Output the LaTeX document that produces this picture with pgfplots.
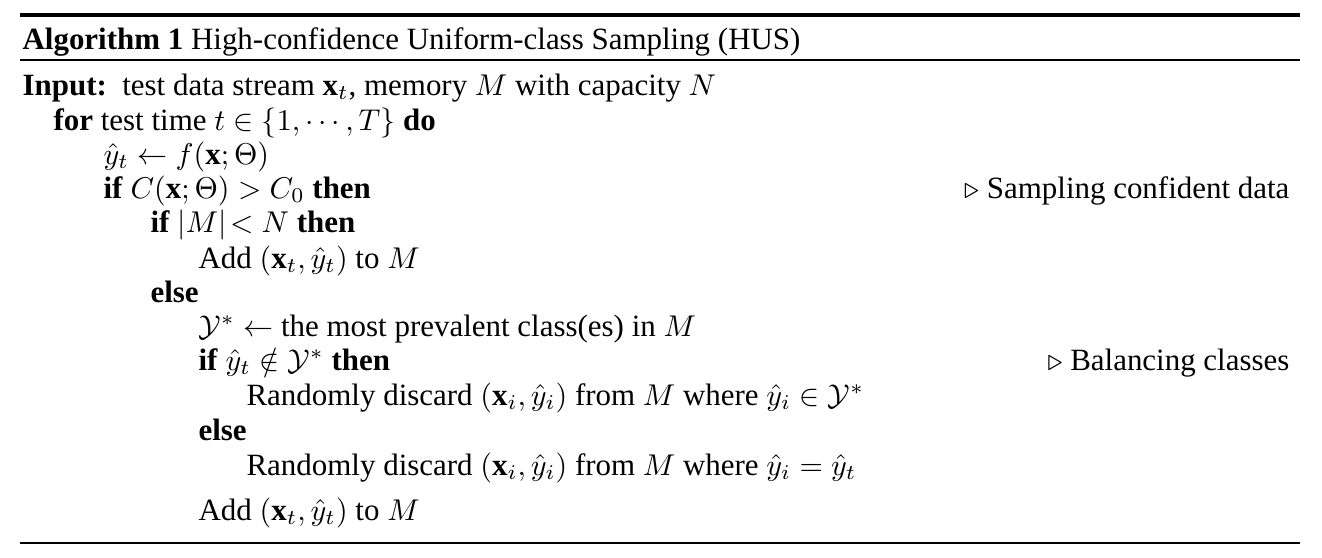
\documentclass[border=0pt]{standalone}
\usepackage{pgfplots}
\pgfplotsset{compat=1.18}
\usepackage{fontspec}
\setmainfont{Liberation Serif}
\tikzset{L/.style={anchor=base west,inner sep=0pt,font=\fontsize{10.3}{12}\selectfont},
R/.style={anchor=base east,inner sep=0pt,font=\fontsize{10.3}{12}\selectfont}}
\begin{document}
\begin{tikzpicture}
\begin{axis}[width=440pt,height=185.4pt,scale only axis,axis lines=none,
  xmin=0,xmax=1322,ymin=0,ymax=557,y dir=reverse,clip=false]
\path (axis cs:0,0) rectangle (axis cs:1322,557);
\draw[line width=1.2pt] (axis cs:20,15) -- (axis cs:1300,15);
\draw[line width=0.5pt] (axis cs:20,60) -- (axis cs:1300,60);
\draw[line width=0.8pt] (axis cs:20,543) -- (axis cs:1300,543);
\node[L] at (axis cs:22,49) {\textbf{Algorithm 1} High-confidence Uniform-class Sampling (HUS)};
\node[L] at (axis cs:22,95) {\textbf{Input:}\ \ test data stream $\mathbf{x}_t$, memory $M$ with capacity $N$};
\node[L] at (axis cs:53,130) {\textbf{for} test time $t\in\{1,\cdots,T\}$ \textbf{do}};
\node[L] at (axis cs:103,164) {$\hat{y}_t\leftarrow f(\mathbf{x};\Theta)$};
\node[L] at (axis cs:103,198) {\textbf{if} $C(\mathbf{x};\Theta)>C_0$ \textbf{then}};
\node[R] at (axis cs:1290,198) {$\triangleright$ Sampling confident data};
\node[L] at (axis cs:150,232) {\textbf{if} $|M|\!<N$ \textbf{then}};
\node[L] at (axis cs:198,268) {Add $(\mathbf{x}_t,\hat{y}_t)$ to $M$};
\node[L] at (axis cs:150,302) {\textbf{else}};
\node[L] at (axis cs:198,336) {$\mathcal{Y}^*\leftarrow$ the most prevalent class(es) in $M$};
\node[L] at (axis cs:198,370) {\textbf{if} $\hat{y}_t\notin\mathcal{Y}^*$ \textbf{then}};
\node[R] at (axis cs:1290,370) {$\triangleright$ Balancing classes};
\node[L] at (axis cs:246,405) {Randomly discard $(\mathbf{x}_i,\hat{y}_i)$ from $M$ where $\hat{y}_i\in\mathcal{Y}^*$};
\node[L] at (axis cs:198,440) {\textbf{else}};
\node[L] at (axis cs:246,475) {Randomly discard $(\mathbf{x}_i,\hat{y}_i)$ from $M$ where $\hat{y}_i=\hat{y}_t$};
\node[L] at (axis cs:198,520) {Add $(\mathbf{x}_t,\hat{y}_t)$ to $M$};
\end{axis}
\end{tikzpicture}
\end{document}
